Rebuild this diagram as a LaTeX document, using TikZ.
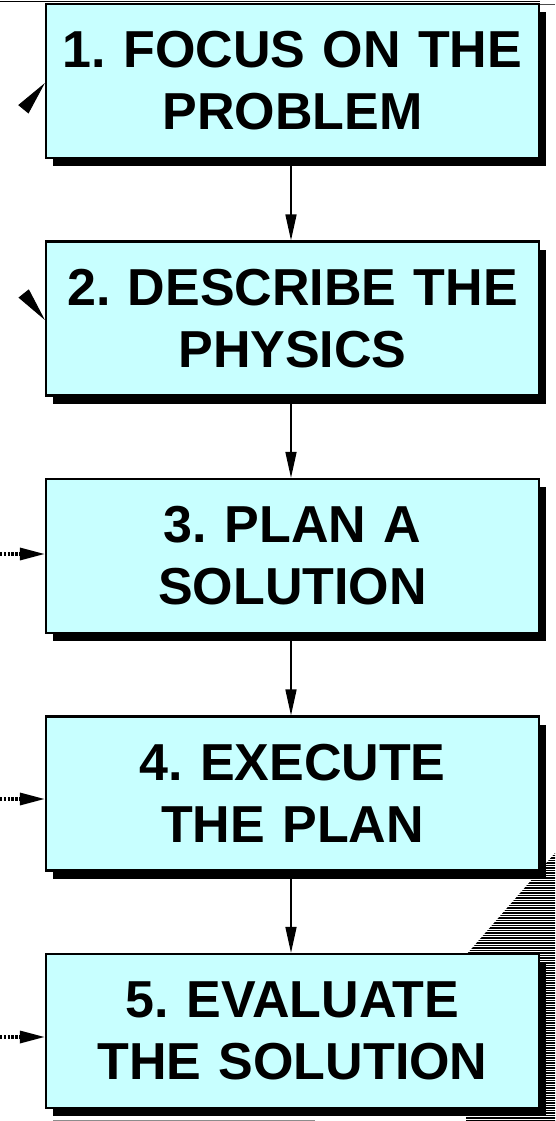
\documentclass[tikz,border=0pt]{standalone}
\usepackage{fontspec}
\setmainfont{Liberation Sans}
\usetikzlibrary{arrows.meta,calc,shadows}
\definecolor{boxfill}{RGB}{200,255,255}
\frenchspacing

\begin{document}
\begin{tikzpicture}[x=1pt,y=-1pt,
  stepbox/.style={draw=black, line width=2.2pt, fill=boxfill,
    minimum width=493pt, minimum height=154pt, inner sep=0pt,
    text width=490pt, align=center,
    font=\fontsize{52}{62}\selectfont\bfseries,
    drop shadow={shadow xshift=7pt, shadow yshift=-8pt, opacity=1, fill=black}},
  flow/.style={line width=1.6pt, -{Triangle[length=26pt,width=11pt]}},
  feed/.style={line width=3.2pt, dash pattern=on 2.4pt off 1.4pt,
    -{Triangle[length=25pt,width=12pt]}},
  loose/.style={line width=1pt, -{Triangle[length=34pt,width=13pt]}},
  hatchline/.style={line width=1.1pt}]

\useasboundingbox (0,0) rectangle (555,1121);

% hatched band behind the lower boxes
\begin{scope}
  \clip (555,853) -- (466,955) -- (466,1121) -- (555,1121) -- cycle;
  \foreach \k in {0,...,107}
    \draw[hatchline] (440,853+\k*2.5) -- (556,853+\k*2.5);
\end{scope}

% rules along the top edge
\draw[line width=1.6pt] (0,1.5) -- (540,1.5);
\draw[line width=1pt, black!70] (540,5) -- (555,5);

% the five steps
\node[stepbox] (b1) at (292.5,81)    {1. FOCUS ON THE\\PROBLEM};
\node[stepbox] (b2) at (292.5,318.5) {2. DESCRIBE THE\\PHYSICS};
\node[stepbox] (b3) at (292.5,556)   {3. PLAN A\\SOLUTION};
\node[stepbox] (b4) at (292.5,793.5) {4. EXECUTE\\THE PLAN};
\node[stepbox] (b5) at (292.5,1031)  {5. EVALUATE\\THE SOLUTION};

\draw[line width=0.8pt, black!45] (53,1120.6) -- (315,1120.6);

% flow from step to step
\draw[flow] ($(b1.south)+(-1.5,0)$) -- ($(b2.north)+(-1.5,0)$);
\draw[flow] ($(b2.south)+(-1.5,0)$) -- ($(b3.north)+(-1.5,0)$);
\draw[flow] ($(b3.south)+(-1.5,0)$) -- ($(b4.north)+(-1.5,0)$);
\draw[flow] ($(b4.south)+(-1.5,0)$) -- ($(b5.north)+(-1.5,0)$);

% incoming arrows on the left
\coordinate (f1) at (24,108.5);
\coordinate (f2) at (24.5,294.5);
\coordinate (f3) at (0,554);
\coordinate (f4) at (0,799);
\coordinate (f5) at (0,1037);
\draw[loose] (f1) -- ($(b1.west)+(0,2)$);
\draw[loose] (f2) -- ($(b2.west)+(0,1.5)$);
\draw[feed] (f3) -- (b3.west |- f3);
\draw[feed] (f4) -- (b4.west |- f4);
\draw[feed] (f5) -- (b5.west |- f5);
\end{tikzpicture}
\end{document}
